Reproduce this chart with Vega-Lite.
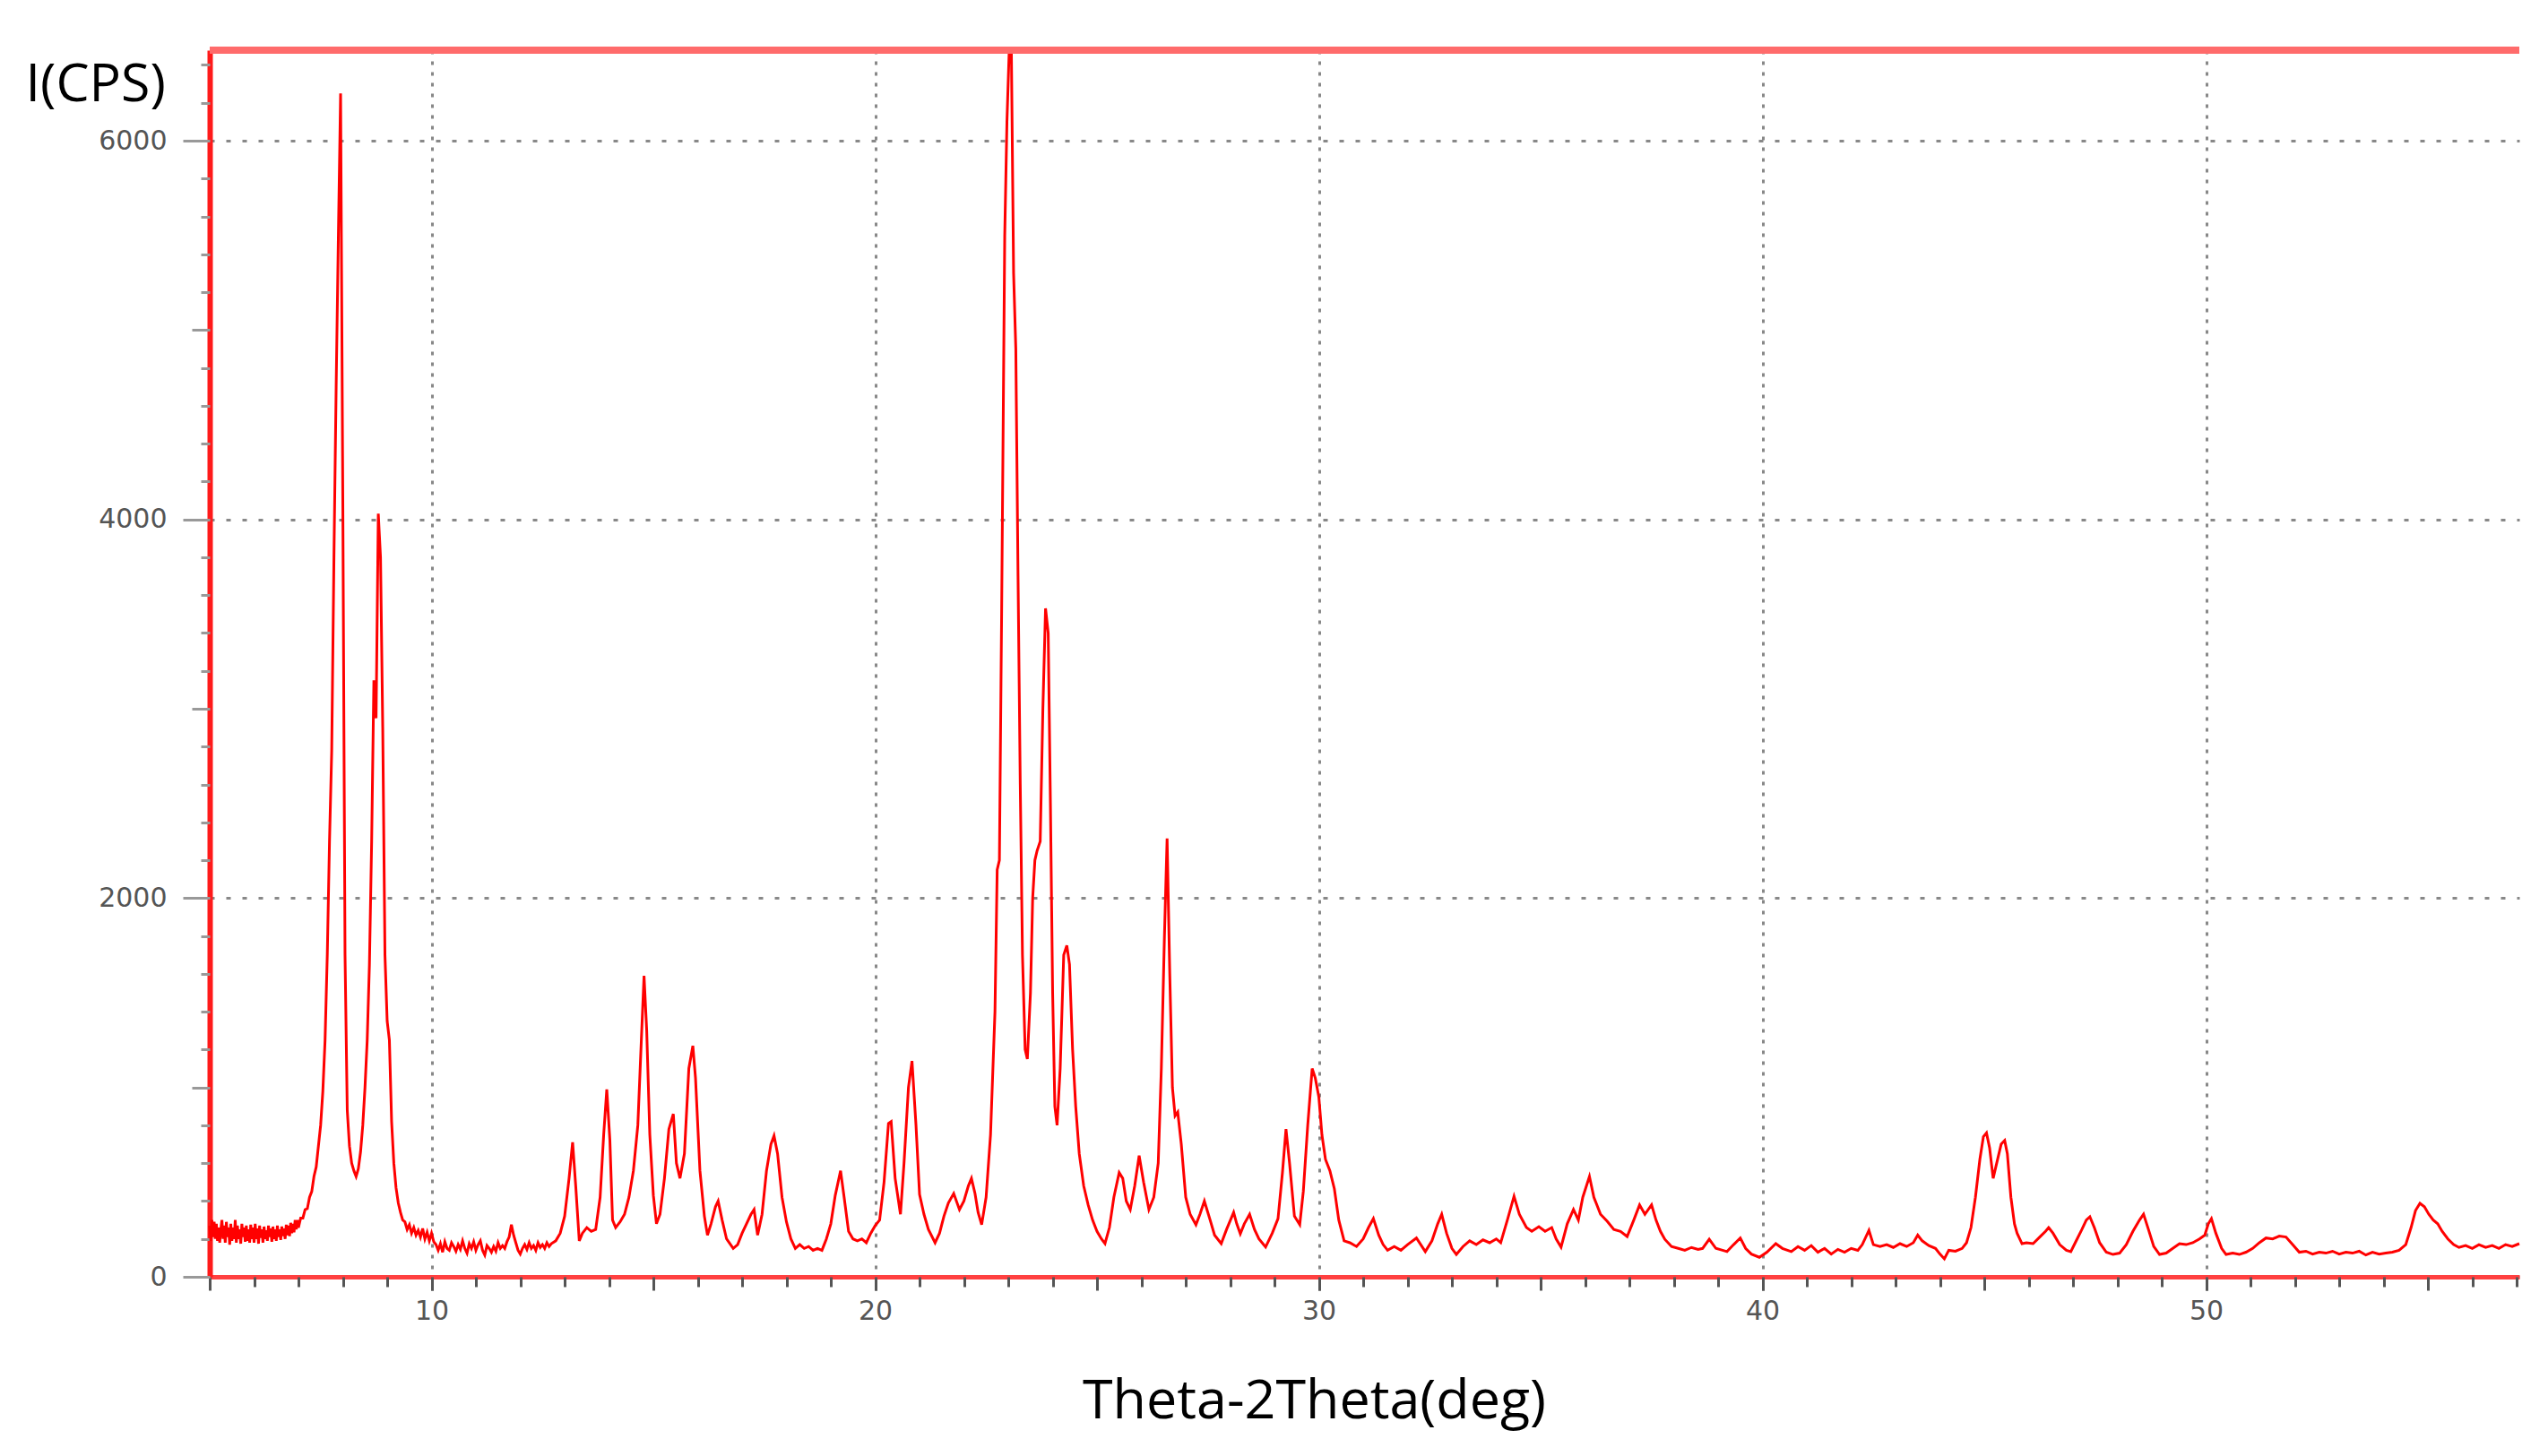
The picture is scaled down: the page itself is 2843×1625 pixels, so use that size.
{
  "$schema": "https://vega.github.io/schema/vega-lite/v6.json",
  "width": 2577,
  "height": 1369,
  "autosize": {"type": "none"},
  "padding": {"left": 234, "top": 56, "right": 32, "bottom": 200},
  "background": "white",
  "config": {"view": {"stroke": null}},
  "data": {"values": [
{"t":5.00,"i":270},{"t":5.025,"i":190},{"t":5.05,"i":300},{"t":5.075,"i":210},{"t":5.10,"i":290},{"t":5.125,"i":200},{"t":5.15,"i":280},{"t":5.175,"i":190},{"t":5.20,"i":260},{"t":5.225,"i":180},{"t":5.25,"i":250},{"t":5.275,"i":300},{"t":5.30,"i":200},{"t":5.325,"i":270},{"t":5.35,"i":180},{"t":5.375,"i":290},{"t":5.40,"i":210},{"t":5.425,"i":260},{"t":5.45,"i":170},
{"t":5.475,"i":280},{"t":5.50,"i":190},{"t":5.525,"i":260},{"t":5.55,"i":200},{"t":5.575,"i":300},{"t":5.60,"i":180},{"t":5.625,"i":270},{"t":5.65,"i":200},{"t":5.675,"i":250},{"t":5.70,"i":175},{"t":5.725,"i":280},{"t":5.75,"i":210},{"t":5.775,"i":260},{"t":5.80,"i":185},{"t":5.825,"i":270},{"t":5.85,"i":190},{"t":5.875,"i":250},{"t":5.90,"i":180},{"t":5.925,"i":275},{"t":5.95,"i":200},
{"t":5.975,"i":260},{"t":6.00,"i":180},{"t":6.025,"i":280},{"t":6.05,"i":200},{"t":6.075,"i":255},{"t":6.10,"i":175},{"t":6.125,"i":270},{"t":6.15,"i":205},{"t":6.175,"i":250},{"t":6.20,"i":180},{"t":6.225,"i":265},{"t":6.25,"i":200},{"t":6.275,"i":245},{"t":6.30,"i":190},{"t":6.325,"i":270},{"t":6.35,"i":210},{"t":6.375,"i":255},{"t":6.40,"i":185},{"t":6.425,"i":265},{"t":6.45,"i":200},
{"t":6.475,"i":250},{"t":6.50,"i":190},{"t":6.525,"i":270},{"t":6.55,"i":210},{"t":6.575,"i":250},{"t":6.60,"i":195},{"t":6.625,"i":265},{"t":6.65,"i":215},{"t":6.675,"i":255},{"t":6.70,"i":200},{"t":6.725,"i":275},{"t":6.75,"i":220},{"t":6.775,"i":270},{"t":6.80,"i":215},{"t":6.825,"i":285},{"t":6.85,"i":230},{"t":6.875,"i":280},{"t":6.90,"i":235},{"t":6.925,"i":300},{"t":6.95,"i":250},
{"t":6.975,"i":300},{"t":7.00,"i":260},{"t":7.05,"i":310},{"t":7.10,"i":310},{"t":7.15,"i":355},{"t":7.20,"i":360},{"t":7.25,"i":420},{"t":7.30,"i":450},{"t":7.35,"i":530},{"t":7.40,"i":580},{"t":7.45,"i":690},
{"t":7.50,"i":800},{"t":7.55,"i":980},{"t":7.60,"i":1250},{"t":7.65,"i":1700},{"t":7.70,"i":2300},{"t":7.75,"i":2780},{"t":7.80,"i":3800},{"t":7.85,"i":4700},{"t":7.90,"i":5500},{"t":7.95,"i":6250},
{"t":8.00,"i":4100},{"t":8.05,"i":1700},{"t":8.10,"i":880},{"t":8.15,"i":690},{"t":8.20,"i":600},{"t":8.25,"i":560},{"t":8.30,"i":530},{"t":8.35,"i":570},{"t":8.40,"i":660},{"t":8.45,"i":800},
{"t":8.50,"i":1000},{"t":8.55,"i":1250},{"t":8.60,"i":1650},{"t":8.65,"i":2300},{"t":8.70,"i":3150},{"t":8.75,"i":2950},{"t":8.80,"i":4030},{"t":8.85,"i":3800},{"t":8.90,"i":2900},{"t":8.95,"i":1700},
{"t":9.00,"i":1350},{"t":9.05,"i":1250},{"t":9.10,"i":820},{"t":9.15,"i":600},{"t":9.20,"i":470},{"t":9.25,"i":390},{"t":9.30,"i":340},{"t":9.35,"i":300},{"t":9.40,"i":290},{"t":9.45,"i":250},{"t":9.50,"i":275},
{"t":9.55,"i":230},{"t":9.60,"i":260},{"t":9.65,"i":220},{"t":9.70,"i":245},{"t":9.75,"i":210},{"t":9.80,"i":255},{"t":9.85,"i":200},{"t":9.90,"i":235},{"t":9.95,"i":190},{"t":10.00,"i":230},{"t":10.05,"i":185},{"t":10.10,"i":170},{"t":10.15,"i":140},{"t":10.20,"i":175},{"t":10.25,"i":130},{"t":10.30,"i":185},{"t":10.35,"i":150},{"t":10.40,"i":140},
{"t":10.45,"i":180},{"t":10.50,"i":160},{"t":10.55,"i":135},{"t":10.60,"i":170},{"t":10.65,"i":145},{"t":10.70,"i":190},{"t":10.75,"i":150},{"t":10.80,"i":125},{"t":10.85,"i":175},{"t":10.90,"i":150},{"t":10.95,"i":185},{"t":11.00,"i":140},{"t":11.05,"i":170},{"t":11.10,"i":190},{"t":11.15,"i":140},{"t":11.20,"i":115},{"t":11.25,"i":165},{"t":11.30,"i":150},{"t":11.35,"i":130},{"t":11.40,"i":160},
{"t":11.45,"i":135},{"t":11.50,"i":180},{"t":11.55,"i":150},{"t":11.60,"i":165},{"t":11.65,"i":150},{"t":11.70,"i":185},{"t":11.75,"i":210},{"t":11.80,"i":275},{"t":11.85,"i":220},{"t":11.90,"i":180},{"t":11.95,"i":140},{"t":12.00,"i":120},{"t":12.05,"i":150},{"t":12.10,"i":170},{"t":12.15,"i":145},{"t":12.20,"i":180},{"t":12.25,"i":150},{"t":12.30,"i":165},{"t":12.35,"i":140},{"t":12.40,"i":180},
{"t":12.45,"i":155},{"t":12.50,"i":170},{"t":12.55,"i":150},{"t":12.60,"i":180},{"t":12.65,"i":160},{"t":12.70,"i":175},{"t":12.80,"i":190},{"t":12.90,"i":230},{"t":13.00,"i":320},{"t":13.10,"i":520},{"t":13.18,"i":710},{"t":13.25,"i":480},{"t":13.33,"i":190},
{"t":13.40,"i":230},{"t":13.50,"i":260},{"t":13.60,"i":240},{"t":13.70,"i":250},{"t":13.80,"i":420},{"t":13.88,"i":750},{"t":13.95,"i":990},{"t":14.02,"i":720},{"t":14.08,"i":300},{"t":14.15,"i":260},
{"t":14.25,"i":290},{"t":14.35,"i":330},{"t":14.45,"i":420},{"t":14.55,"i":560},{"t":14.65,"i":800},{"t":14.72,"i":1200},{"t":14.79,"i":1590},{"t":14.85,"i":1300},{"t":14.92,"i":750},{"t":15.00,"i":430},
{"t":15.07,"i":280},{"t":15.15,"i":330},{"t":15.25,"i":520},{"t":15.35,"i":780},{"t":15.45,"i":860},{"t":15.52,"i":600},{"t":15.60,"i":520},{"t":15.70,"i":650},{"t":15.80,"i":1100},{"t":15.89,"i":1220},
{"t":15.95,"i":1050},{"t":16.05,"i":560},{"t":16.15,"i":320},{"t":16.22,"i":220},{"t":16.30,"i":280},{"t":16.40,"i":370},{"t":16.46,"i":400},{"t":16.55,"i":300},{"t":16.65,"i":200},{"t":16.80,"i":150},
{"t":16.90,"i":170},{"t":17.00,"i":230},{"t":17.10,"i":280},{"t":17.20,"i":330},{"t":17.27,"i":355},{"t":17.35,"i":220},{"t":17.45,"i":330},{"t":17.55,"i":560},{"t":17.65,"i":700},{"t":17.72,"i":745},
{"t":17.80,"i":650},{"t":17.90,"i":420},{"t":18.00,"i":290},{"t":18.10,"i":200},{"t":18.20,"i":150},{"t":18.30,"i":170},{"t":18.40,"i":150},{"t":18.50,"i":160},{"t":18.60,"i":140},{"t":18.70,"i":150},
{"t":18.80,"i":140},{"t":18.90,"i":200},{"t":19.00,"i":280},{"t":19.10,"i":430},{"t":19.22,"i":560},{"t":19.30,"i":420},{"t":19.40,"i":240},{"t":19.50,"i":200},{"t":19.60,"i":190},{"t":19.70,"i":200},
{"t":19.80,"i":180},{"t":19.90,"i":230},{"t":20.00,"i":270},{"t":20.10,"i":300},{"t":20.20,"i":500},{"t":20.30,"i":810},{"t":20.36,"i":820},{"t":20.45,"i":520},{"t":20.57,"i":330},{"t":20.65,"i":600},
{"t":20.75,"i":1000},{"t":20.83,"i":1140},{"t":20.92,"i":800},{"t":21.00,"i":435},{"t":21.10,"i":330},{"t":21.20,"i":250},{"t":21.35,"i":180},{"t":21.45,"i":230},{"t":21.55,"i":320},{"t":21.65,"i":390},
{"t":21.77,"i":440},{"t":21.90,"i":355},{"t":22.00,"i":400},{"t":22.10,"i":480},{"t":22.17,"i":520},{"t":22.25,"i":440},{"t":22.32,"i":340},{"t":22.40,"i":275},{"t":22.50,"i":420},{"t":22.60,"i":750},
{"t":22.70,"i":1400},{"t":22.75,"i":2150},{"t":22.80,"i":2200},{"t":22.85,"i":3500},{"t":22.92,"i":5500},{"t":22.97,"i":6100},{"t":23.02,"i":6470},{"t":23.07,"i":6470},{"t":23.12,"i":5300},{"t":23.17,"i":4900},
{"t":23.22,"i":3700},{"t":23.27,"i":2600},{"t":23.32,"i":1700},{"t":23.38,"i":1200},{"t":23.43,"i":1150},{"t":23.50,"i":1500},{"t":23.55,"i":2000},{"t":23.60,"i":2200},{"t":23.65,"i":2250},{"t":23.72,"i":2300},
{"t":23.78,"i":3000},{"t":23.84,"i":3530},{"t":23.90,"i":3400},{"t":23.95,"i":2500},{"t":24.00,"i":1500},{"t":24.05,"i":900},{"t":24.10,"i":800},{"t":24.17,"i":1100},{"t":24.25,"i":1700},{"t":24.32,"i":1750},
{"t":24.38,"i":1650},{"t":24.45,"i":1200},{"t":24.52,"i":900},{"t":24.60,"i":650},{"t":24.70,"i":480},{"t":24.80,"i":380},{"t":24.90,"i":300},{"t":25.00,"i":240},{"t":25.10,"i":200},{"t":25.18,"i":175},
{"t":25.28,"i":260},{"t":25.38,"i":420},{"t":25.50,"i":550},{"t":25.58,"i":520},{"t":25.66,"i":400},{"t":25.75,"i":355},{"t":25.85,"i":480},{"t":25.95,"i":640},{"t":26.05,"i":500},{"t":26.17,"i":355},
{"t":26.28,"i":420},{"t":26.38,"i":600},{"t":26.45,"i":1100},{"t":26.52,"i":1800},{"t":26.58,"i":2315},{"t":26.64,"i":1600},{"t":26.70,"i":1000},{"t":26.76,"i":850},{"t":26.82,"i":870},{"t":26.90,"i":700},
{"t":27.00,"i":420},{"t":27.10,"i":330},{"t":27.23,"i":275},{"t":27.32,"i":330},{"t":27.42,"i":400},{"t":27.55,"i":300},{"t":27.65,"i":220},{"t":27.80,"i":175},{"t":27.92,"i":250},{"t":28.08,"i":340},
{"t":28.15,"i":280},{"t":28.23,"i":227},{"t":28.32,"i":280},{"t":28.44,"i":330},{"t":28.55,"i":250},{"t":28.65,"i":200},{"t":28.80,"i":157},{"t":28.95,"i":230},{"t":29.08,"i":307},{"t":29.18,"i":550},
{"t":29.26,"i":780},{"t":29.34,"i":600},{"t":29.45,"i":320},{"t":29.57,"i":275},{"t":29.65,"i":450},{"t":29.75,"i":800},{"t":29.85,"i":1100},{"t":29.92,"i":1050},{"t":30.00,"i":950},{"t":30.07,"i":750},
{"t":30.15,"i":620},{"t":30.25,"i":560},{"t":30.35,"i":465},{"t":30.45,"i":300},{"t":30.57,"i":190},{"t":30.70,"i":180},{"t":30.85,"i":160},{"t":31.00,"i":200},{"t":31.12,"i":260},{"t":31.23,"i":307},
{"t":31.35,"i":220},{"t":31.45,"i":170},{"t":31.55,"i":140},{"t":31.70,"i":160},{"t":31.85,"i":140},{"t":32.00,"i":170},{"t":32.20,"i":205},{"t":32.40,"i":133},{"t":32.55,"i":190},{"t":32.68,"i":280},
{"t":32.77,"i":330},{"t":32.88,"i":230},{"t":33.00,"i":150},{"t":33.10,"i":118},{"t":33.25,"i":160},{"t":33.40,"i":190},{"t":33.55,"i":170},{"t":33.70,"i":195},{"t":33.85,"i":180},{"t":34.00,"i":200},
{"t":34.10,"i":180},{"t":34.25,"i":300},{"t":34.40,"i":425},{"t":34.52,"i":330},{"t":34.68,"i":260},{"t":34.80,"i":240},{"t":34.96,"i":265},{"t":35.10,"i":240},{"t":35.25,"i":260},{"t":35.35,"i":200},
{"t":35.46,"i":157},{"t":35.60,"i":280},{"t":35.74,"i":355},{"t":35.85,"i":300},{"t":35.95,"i":420},{"t":36.10,"i":530},{"t":36.20,"i":420},{"t":36.35,"i":330},{"t":36.50,"i":293},{"t":36.65,"i":250},
{"t":36.80,"i":240},{"t":36.95,"i":213},{"t":37.10,"i":300},{"t":37.23,"i":380},{"t":37.35,"i":330},{"t":37.50,"i":380},{"t":37.60,"i":300},{"t":37.70,"i":240},{"t":37.80,"i":198},{"t":37.95,"i":160},
{"t":38.10,"i":150},{"t":38.25,"i":140},{"t":38.40,"i":155},{"t":38.55,"i":145},{"t":38.65,"i":150},{"t":38.80,"i":198},{"t":38.95,"i":150},{"t":39.10,"i":140},{"t":39.20,"i":133},{"t":39.35,"i":170},
{"t":39.50,"i":205},{"t":39.62,"i":150},{"t":39.75,"i":120},{"t":39.93,"i":103},{"t":40.10,"i":130},{"t":40.30,"i":175},{"t":40.45,"i":150},{"t":40.65,"i":133},{"t":40.80,"i":160},{"t":40.95,"i":140},
{"t":41.10,"i":165},{"t":41.25,"i":130},{"t":41.40,"i":150},{"t":41.55,"i":120},{"t":41.70,"i":145},{"t":41.85,"i":130},{"t":42.00,"i":150},{"t":42.15,"i":140},{"t":42.25,"i":170},{"t":42.40,"i":245},
{"t":42.50,"i":170},{"t":42.65,"i":160},{"t":42.80,"i":170},{"t":42.95,"i":155},{"t":43.10,"i":175},{"t":43.25,"i":160},{"t":43.40,"i":180},{"t":43.50,"i":220},{"t":43.60,"i":190},{"t":43.75,"i":165},
{"t":43.90,"i":150},{"t":44.00,"i":120},{"t":44.10,"i":95},{"t":44.20,"i":140},{"t":44.35,"i":135},{"t":44.50,"i":150},{"t":44.60,"i":180},{"t":44.70,"i":260},{"t":44.80,"i":420},{"t":44.90,"i":620},
{"t":44.98,"i":740},{"t":45.05,"i":760},{"t":45.12,"i":680},{"t":45.20,"i":520},{"t":45.28,"i":600},{"t":45.38,"i":700},{"t":45.46,"i":720},{"t":45.52,"i":650},{"t":45.60,"i":420},{"t":45.68,"i":280},
{"t":45.74,"i":230},{"t":45.85,"i":175},{"t":45.95,"i":180},{"t":46.10,"i":175},{"t":46.25,"i":210},{"t":46.38,"i":240},{"t":46.45,"i":260},{"t":46.55,"i":230},{"t":46.70,"i":170},{"t":46.85,"i":140},
{"t":46.95,"i":133},{"t":47.05,"i":180},{"t":47.20,"i":250},{"t":47.30,"i":300},{"t":47.38,"i":317},{"t":47.48,"i":260},{"t":47.60,"i":180},{"t":47.75,"i":130},{"t":47.90,"i":118},{"t":48.05,"i":125},
{"t":48.20,"i":170},{"t":48.35,"i":240},{"t":48.50,"i":300},{"t":48.59,"i":331},{"t":48.70,"i":250},{"t":48.82,"i":160},{"t":48.95,"i":118},{"t":49.10,"i":125},{"t":49.25,"i":150},{"t":49.40,"i":175},
{"t":49.55,"i":170},{"t":49.70,"i":180},{"t":49.85,"i":200},{"t":49.97,"i":220},{"t":50.05,"i":280},{"t":50.12,"i":307},{"t":50.22,"i":230},{"t":50.35,"i":150},{"t":50.45,"i":118},{"t":50.60,"i":125},
{"t":50.75,"i":118},{"t":50.90,"i":130},{"t":51.05,"i":150},{"t":51.20,"i":180},{"t":51.35,"i":205},{"t":51.50,"i":200},{"t":51.65,"i":215},{"t":51.80,"i":210},{"t":51.95,"i":170},{"t":52.10,"i":130},
{"t":52.25,"i":135},{"t":52.40,"i":120},{"t":52.55,"i":130},{"t":52.70,"i":125},{"t":52.85,"i":135},{"t":53.00,"i":120},{"t":53.15,"i":130},{"t":53.30,"i":125},{"t":53.45,"i":135},{"t":53.60,"i":115},
{"t":53.75,"i":130},{"t":53.90,"i":120},{"t":54.05,"i":125},{"t":54.20,"i":130},{"t":54.35,"i":140},{"t":54.50,"i":170},{"t":54.62,"i":260},{"t":54.72,"i":350},{"t":54.82,"i":388},{"t":54.92,"i":370},
{"t":55.02,"i":330},{"t":55.12,"i":300},{"t":55.22,"i":280},{"t":55.32,"i":240},{"t":55.45,"i":200},{"t":55.58,"i":170},{"t":55.70,"i":155},{"t":55.85,"i":165},{"t":56.00,"i":150},{"t":56.15,"i":170},
{"t":56.30,"i":155},{"t":56.45,"i":165},{"t":56.60,"i":150},{"t":56.75,"i":170},{"t":56.90,"i":160},{"t":57.06,"i":175}
  ]},
  "layer": [
    {
      "mark": {"type": "line", "color": "#ff0000", "strokeWidth": 3},
      "encoding": {
        "x": {
          "field": "t", "type": "quantitative",
          "scale": {"domain": [5, 57.06], "nice": false, "zero": false},
          "axis": {
            "orient": "bottom", "values": [10, 20, 30, 40, 50], "format": "d",
            "title": "Theta-2Theta(deg)",
            "grid": true, "gridColor": "#888888", "gridDash": [4, 8], "gridWidth": 3,
            "domainColor": "#ff4040", "domainWidth": 5,
            "tickColor": "#555555", "tickSize": 15, "tickWidth": 3,
            "labelFont": "DejaVu Sans", "labelFontSize": 30, "labelColor": "#555555", "labelPadding": 8,
            "titleFont": "Open Sans", "titleFontSize": 61, "titleFontWeight": "normal", "titleColor": "#000000",
            "titleX": 1232, "titleY": 157, "titleAlign": "center", "titleBaseline": "alphabetic"
          }
        },
        "y": {
          "field": "i", "type": "quantitative",
          "scale": {"domain": [0, 6478], "nice": false, "zero": false},
          "axis": {
            "orient": "left", "values": [0, 2000, 4000, 6000], "format": "d",
            "title": "I(CPS)",
            "grid": true, "gridColor": "#888888", "gridDash": [5, 13], "gridWidth": 3,
            "domainColor": "#ff1a1a", "domainWidth": 6,
            "tickColor": "#999999", "tickSize": 30, "tickWidth": 3,
            "labelFont": "DejaVu Sans", "labelFontSize": 30, "labelColor": "#555555", "labelPadding": 18,
            "titleFont": "Open Sans", "titleFontSize": 59, "titleFontWeight": "normal", "titleColor": "#000000",
            "titleAngle": 0, "titleX": -206, "titleY": 56, "titleAlign": "left", "titleBaseline": "alphabetic"
          }
        }
      }
    },
    {
      "mark": {"type": "rule", "color": "#ff6b6b", "strokeWidth": 7},
      "encoding": {
        "x": {
          "datum": 5, "type": "quantitative",
          "axis": {
            "orient": "bottom",
            "values": [5,6,7,8,9,10,11,12,13,14,15,16,17,18,19,20,21,22,23,24,25,26,27,28,29,30,31,32,33,34,35,36,37,38,39,40,41,42,43,44,45,46,47,48,49,50,51,52,53,54,55,56,57],
            "labels": false, "grid": false, "domain": false, "title": null,
            "tickColor": "#555555", "tickWidth": 3,
            "tickSize": {"condition": {"test": "datum.value % 5 === 0", "value": 15}, "value": 11}
          }
        },
        "x2": {"datum": 57.06},
        "y": {
          "datum": 6478, "type": "quantitative",
          "axis": {
            "orient": "left",
            "values": [0,200,400,600,800,1000,1200,1400,1600,1800,2000,2200,2400,2600,2800,3000,3200,3400,3600,3800,4000,4200,4400,4600,4800,5000,5200,5400,5600,5800,6000,6200,6400],
            "labels": false, "grid": false, "domain": false, "title": null,
            "tickColor": "#999999", "tickWidth": 3,
            "tickSize": {"condition": {"test": "datum.value % 1000 === 0", "value": 20}, "value": 10}
          }
        }
      }
    }
  ],
  "resolve": {"axis": {"x": "independent", "y": "independent"}}
}
